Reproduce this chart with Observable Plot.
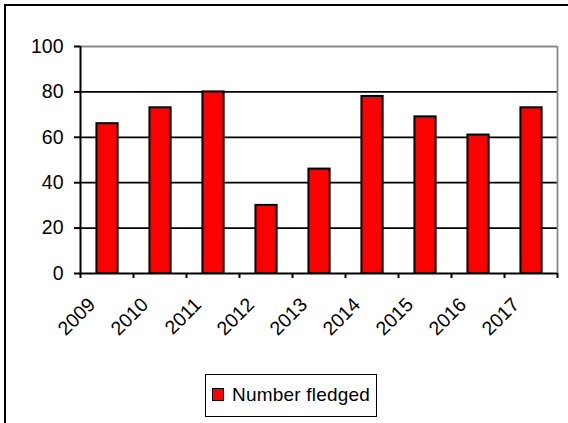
<!DOCTYPE html>
<html><head><meta charset="utf-8">
<script src="https://cdn.jsdelivr.net/npm/d3@7"></script>
<script src="https://cdn.jsdelivr.net/npm/@observablehq/plot@0.6"></script>
<style>
body{margin:0;background:#fff;font-family:"Liberation Sans",Arial,sans-serif;}
#wrap{position:relative;width:568px;height:423px;overflow:hidden;background:#fff;}
#border{position:absolute;left:4px;top:4px;width:700px;height:600px;border-left:2px solid #000;border-top:2px solid #000;}
#chart{position:absolute;left:0;top:0;}
#legend{position:absolute;left:205px;top:374px;width:170px;height:41px;border:1.5px solid #000;box-sizing:content-box;}
#legend .sw{position:absolute;left:6px;top:13px;width:10px;height:11px;background:#ff0000;border:1.5px solid #000;}
#legend .lb{position:absolute;left:26px;top:10px;font-size:19px;line-height:19px;letter-spacing:0.2px;color:#000;white-space:nowrap;}
</style>
</head><body>
<div id="wrap"><div id="border"></div><div id="chart"></div>
<div id="legend"><div class="sw"></div><div class="lb"></div></div></div>
<script>
const years = ["2009","2010","2011","2012","2013","2014","2015","2016","2017"];
const fledged = [66, 73, 80, 30, 46, 78, 69, 61, 73];
const yTicks = [0, 20, 40, 60, 80, 100];
const seriesName = "Number fledged";

const data = years.map((year, i) => ({i, year, value: fledged[i]}));
const n = years.length;

const chart = Plot.plot({
  width: 568, height: 340,
  marginLeft: 80, marginRight: 11, marginTop: 46, marginBottom: 67,
  x: {type: "linear", domain: [0, n], axis: null},
  y: {domain: [0, 100], axis: null},
  style: {fontFamily: "'Liberation Sans', Arial, sans-serif", fontSize: "19.5px", color: "#000", background: "transparent"},
  marks: [
    Plot.ruleY(yTicks.filter(t => t > 0 && t < 100), {stroke: "#000", strokeWidth: 1.8}),
    Plot.ruleY([100], {stroke: "#888", strokeWidth: 1.8}),
    Plot.ruleX([n], {y1: 0, y2: 100, stroke: "#888", strokeWidth: 1.8}),
    Plot.rectY(data, {x1: d => d.i + 0.31, x2: d => d.i + 0.71, y: "value", fill: "#ff0000", stroke: "#000", strokeWidth: 2}),
    Plot.ruleX([0], {y1: 0, y2: 100, stroke: "#000", strokeWidth: 2}),
    Plot.ruleY([0], {stroke: "#000", strokeWidth: 2}),
    Plot.axisY({ticks: yTicks, tickSize: 6, tickPadding: 11, fontSize: 19.5, strokeWidth: 2, label: null}),
    Plot.axisX({ticks: d3.range(0, n + 1), tickSize: 5, tickFormat: () => "", strokeWidth: 2, label: null}),
    Plot.text(data, {x: d => d.i + 0.5, text: "year", frameAnchor: "bottom", lineAnchor: "middle",
      rotate: -45, textAnchor: "end", dx: -15, dy: 28, fontSize: 19.5, fill: "#000", ariaLabel: "xlabels"})
  ]
});
chart.querySelectorAll('g[aria-label="xlabels"] text').forEach(t => t.style.letterSpacing = "2.5px");
document.getElementById("chart").appendChild(chart);
document.querySelector("#legend .lb").textContent = seriesName;
</script>
</body></html>
